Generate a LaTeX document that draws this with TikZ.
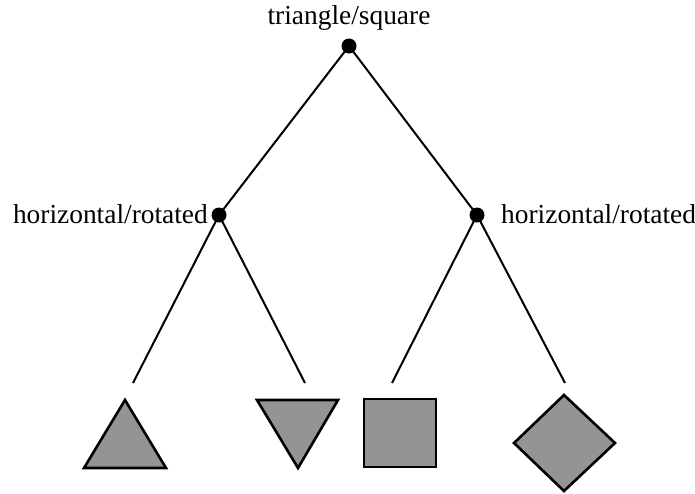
\documentclass[tikz,border=0pt]{standalone}
\usepackage{fontspec}
\setmainfont{Liberation Serif}
\begin{document}
\begin{tikzpicture}[x=1pt,y=-1pt,
  dot/.style={circle,fill=black,inner sep=0pt,minimum size=15pt},
  edge/.style={line width=2pt},
  lbl/.style={inner sep=0pt,font=\fontsize{27.4}{30}\selectfont},
  shp/.style={draw=black,line width=2.6pt,fill=black!42,line join=miter}]
\useasboundingbox (0,0) rectangle (695,493);
\node[dot] (r) at (349,46) {};
\node[dot] (l) at (219,215) {};
\node[dot] (rr) at (477,215) {};
\node[lbl,anchor=base] (tl) at (349,24) {triangle/square};
\node[lbl,anchor=base east] (ll) at (208,223) {horizontal/rotated};
\node[lbl,anchor=base west] (rl) at (501,223) {horizontal/rotated};
\coordinate (e1) at (133,383);
\coordinate (e2) at (305,383);
\coordinate (e3) at (392,383);
\coordinate (e4) at (565,383);
\draw[edge] (r.center) -- (l.center);
\draw[edge] (r.center) -- (rr.center);
\draw[edge] (l.center) -- (e1);
\draw[edge] (l.center) -- (e2);
\draw[edge] (rr.center) -- (e3);
\draw[edge] (rr.center) -- (e4);
\filldraw[shp] (125,400) -- (166,468) -- (84,468) -- cycle;
\filldraw[shp] (257,400) -- (338,400) -- (298,468) -- cycle;
\filldraw[shp] (364,399) rectangle (436,467);
\filldraw[shp] (564,395) -- (615,443) -- (564,491) -- (514,443) -- cycle;
\end{tikzpicture}
\end{document}
